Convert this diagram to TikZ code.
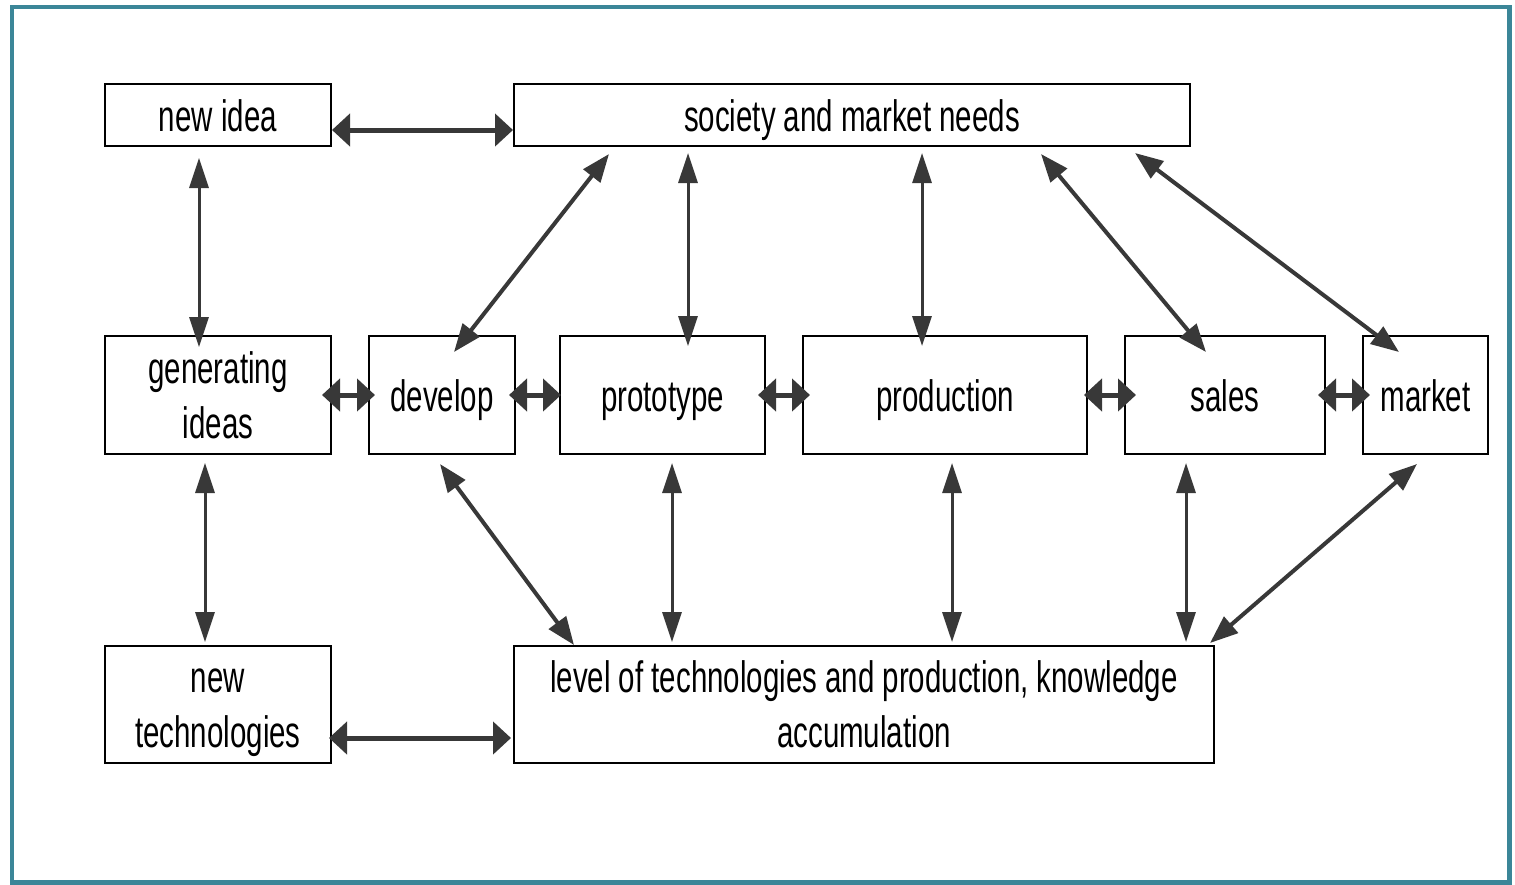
\documentclass[tikz,border=0pt]{standalone}
\usepackage{fontspec}
\setmainfont[FakeStretch=0.67]{Liberation Sans}
\usetikzlibrary{arrows.meta}
\definecolor{framecol}{HTML}{3B8698}
\definecolor{arrcol}{HTML}{383838}
\begin{document}
\begin{tikzpicture}[x=1pt,y=-1pt,
  box/.style={draw=black,line width=2pt,inner sep=0pt,align=center,
    font=\fontsize{44}{55}\selectfont},
  one/.style={text height=32pt,text depth=0pt},
  ha/.style={draw=arrcol,line width=5pt,
    {Triangle[length=18pt,width=32pt]}-{Triangle[length=18pt,width=32pt]}},
  va/.style={draw=arrcol,line width=3pt,
    {Triangle[length=30pt,width=19pt]}-{Triangle[length=30pt,width=19pt]}},
  da/.style={draw=arrcol,line width=4pt,
    {Triangle[length=28pt,width=21pt]}-{Triangle[length=28pt,width=21pt]}},
]
\useasboundingbox (0,0) rectangle (1515,884);
\fill[white] (0,0) rectangle (1515,884);
\draw[framecol,line width=4.5pt] (12,7) rectangle (1509.5,882.5);

% boxes
\node[box,one,minimum width=226pt,minimum height=62pt] (idea) at (218,115) {new idea};
\node[box,one,minimum width=676pt,minimum height=62pt] (soc) at (852,115) {society and market needs};
\node[box,minimum width=226pt,minimum height=118pt] (gen) at (218,395) {generating\\ideas};
\node[box,one,minimum width=146pt,minimum height=118pt] (dev) at (442,395) {develop};
\node[box,one,minimum width=205pt,minimum height=118pt] (proto) at (662.5,395) {prototype};
\node[box,one,minimum width=284pt,minimum height=118pt] (prod) at (945,395) {production};
\node[box,one,minimum width=200pt,minimum height=118pt] (sales) at (1225,395) {sales};
\node[box,one,minimum width=125pt,minimum height=118pt] (market) at (1425.5,395) {market};
\node[box,minimum width=226pt,minimum height=117pt] (newtech) at (218,704.5) {\vphantom{l}new\\\smash{technologies}};
\node[box,minimum width=700pt,minimum height=117pt] (level) at (864,704.5) {level of technologies and production, knowledge\\accumulation};

% horizontal arrows
\draw[ha] ([shift={(0,15)}]idea.east) -- ([shift={(0,15)}]soc.west);
\draw[ha] ([shift={(-10,0)}]gen.east) -- ([shift={(7,0)}]dev.west);
\draw[ha] ([shift={(-7,0)}]dev.east) -- ([shift={(2,0)}]proto.west);
\draw[ha] ([shift={(-8,0)}]proto.east) -- ([shift={(8,0)}]prod.west);
\draw[ha] ([shift={(-4,0)}]prod.east) -- ([shift={(12,0)}]sales.west);
\draw[ha] ([shift={(-8,0)}]sales.east) -- ([shift={(8,0)}]market.west);
\draw[ha] ([shift={(-3,33.5)}]newtech.east) -- ([shift={(-2,33.5)}]level.west);

% vertical arrows
\draw[va] ([shift={(-19,11)}]idea.south) -- ([shift={(-19,12)}]gen.north);
\draw[va] ([shift={(-164,6)}]soc.south) -- ([shift={(25.5,11)}]proto.north);
\draw[va] ([shift={(70,6)}]soc.south) -- ([shift={(-23,11)}]prod.north);
\draw[va] ([shift={(-13,8)}]gen.south) -- ([shift={(-13,-3)}]newtech.north);
\draw[va] ([shift={(9.5,8)}]proto.south) -- ([shift={(-192,-3)}]level.north);
\draw[va] ([shift={(7,8)}]prod.south) -- ([shift={(88,-3)}]level.north);
\draw[va] ([shift={(-39,8)}]sales.south) -- ([shift={(322,-3)}]level.north);

% diagonal arrows
\draw[da] ([shift={(-243,7)}]soc.south) -- ([shift={(12,17)}]dev.north);
\draw[da] ([shift={(189,7)}]soc.south) -- ([shift={(-19,17)}]sales.north);
\draw[da] ([shift={(283,6)}]soc.south) -- ([shift={(-26.5,17)}]market.north);
\draw[da] ([shift={(-2,9)}]dev.south) -- ([shift={(-290,0)}]level.north);
\draw[da] ([shift={(-8.5,9)}]market.south) -- ([shift={(346,-2)}]level.north);
\end{tikzpicture}
\end{document}
